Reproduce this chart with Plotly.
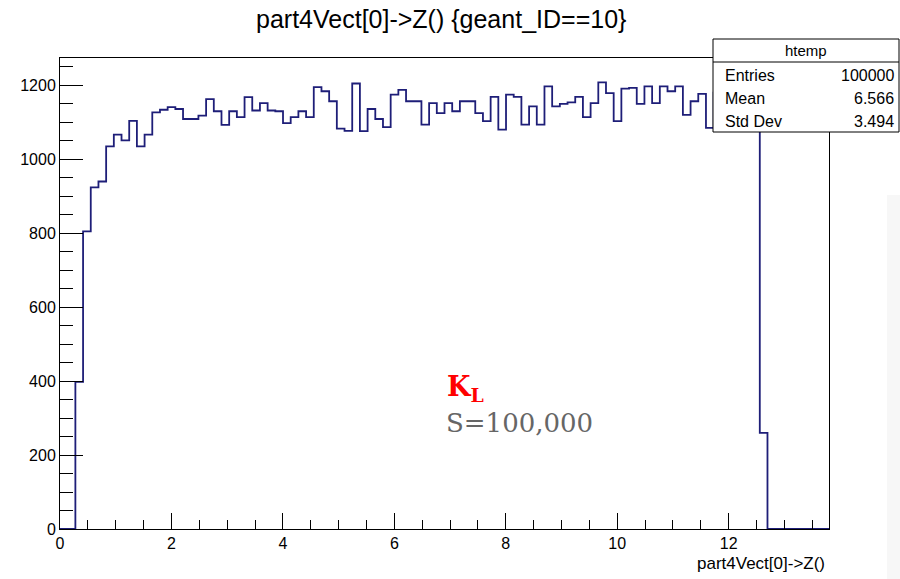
import numpy as np
import plotly.graph_objects as go

# ---- data ----
x_min, x_max, n_bins = 0.0, 13.8, 100
bin_counts = [
    0, 0, 398, 805, 924, 940, 1035, 1067, 1051, 1104,
    1035, 1067, 1127, 1134, 1141, 1136, 1109, 1109, 1118, 1163,
    1130, 1093, 1130, 1114, 1168, 1132, 1152, 1132, 1130, 1098,
    1114, 1130, 1114, 1195, 1184, 1157, 1083, 1077, 1205, 1076,
    1136, 1109, 1087, 1175, 1188, 1157, 1157, 1094, 1152, 1125,
    1152, 1130, 1157, 1157, 1125, 1103, 1169, 1080, 1175, 1169,
    1094, 1143, 1094, 1197, 1143, 1150, 1154, 1169, 1114, 1152,
    1208, 1179, 1103, 1191, 1193, 1150, 1197, 1152, 1197, 1184,
    1197, 1120, 1157, 1177, 1085, 1180, 1150, 1190, 1160, 1200,
    1170, 260, 0, 0, 0, 0, 0, 0, 0, 0,
]
y_max = 1274
title_text = "part4Vect[0]->Z() {geant_ID==10}"
x_title = "part4Vect[0]->Z()"
stats_name = "htemp"
stats_labels = ["Entries", "Mean", "Std Dev"]
stats_values = ["100000", "6.566", "3.494"]
note_particle = "<b>K<sub>L</sub></b>"
note_stat = "S=100,000"

edges = np.linspace(x_min, x_max, n_bins + 1)
xs = list(edges)
ys = list(bin_counts) + [0]

fig = go.Figure()
fig.add_trace(go.Scatter(
    x=xs, y=ys, mode="lines", line=dict(shape="hv", color="#1e1e78", width=1.8),
    hoverinfo="skip", showlegend=False,
))

L, R, T, B = 60, 71, 58, 50
W, H = 900, 579
pw = W - L - R
ph = H - T - B

def px(xp):
    return (xp - L) / pw

def py(yp):
    return (H - B - yp) / ph

font_main = "Liberation Sans, Arial, Helvetica, sans-serif"

fig.update_layout(
    width=W, height=H,
    margin=dict(l=L, r=R, t=T, b=B, pad=0),
    paper_bgcolor="white", plot_bgcolor="white",
    font=dict(family=font_main, color="black", size=16),
    showlegend=False,
    xaxis=dict(
        range=[x_min, x_max], showgrid=False, zeroline=False,
        showline=True, linecolor="black", linewidth=1, mirror=True,
        ticks="inside", ticklen=16, tickwidth=1, tickcolor="black",
        tick0=0, dtick=2, tickfont=dict(size=16),
        minor=dict(ticks="inside", ticklen=9, dtick=0.5, tickcolor="black", showgrid=False),
    ),
    yaxis=dict(
        range=[0, y_max], showgrid=False, zeroline=False,
        showline=True, linecolor="black", linewidth=1, mirror=True,
        ticks="inside", ticklen=23, tickwidth=1, tickcolor="black",
        tick0=0, dtick=200, tickfont=dict(size=16),
        minor=dict(ticks="inside", ticklen=13, dtick=50, tickcolor="black", showgrid=False),
    ),
)

# right-edge faint grey panel
fig.add_shape(type="rect", xref="paper", yref="paper",
              x0=px(887), x1=px(900), y0=py(579), y1=py(195),
              fillcolor="#f7f7f7", line=dict(width=0), layer="below")

# stats box
fig.add_shape(type="rect", xref="paper", yref="paper",
              x0=px(713), x1=px(899), y0=py(132), y1=py(39),
              fillcolor="white", line=dict(color="black", width=1), layer="above")
fig.add_shape(type="line", xref="paper", yref="paper",
              x0=px(713), x1=px(899), y0=py(62), y1=py(62),
              line=dict(color="black", width=1), layer="above")

fig.add_annotation(text=stats_name, xref="paper", yref="paper",
                   x=px(806), y=py(50), xanchor="center", yanchor="middle",
                   showarrow=False, font=dict(size=15, family=font_main))
for i, (lab, val) in enumerate(zip(stats_labels, stats_values)):
    yy = 75 + i * 23.5
    fig.add_annotation(text=lab, xref="paper", yref="paper",
                       x=px(723), y=py(yy), xanchor="left", yanchor="middle",
                       showarrow=False, font=dict(size=16, family=font_main))
    fig.add_annotation(text=val, xref="paper", yref="paper",
                       x=px(896), y=py(yy), xanchor="right", yanchor="middle",
                       showarrow=False, font=dict(size=16, family=font_main))

# title
fig.add_annotation(text=title_text, xref="paper", yref="paper",
                   x=px(441), y=py(19), xanchor="center", yanchor="middle",
                   showarrow=False, font=dict(size=25, family=font_main))

# x axis title
fig.add_annotation(text=x_title, xref="paper", yref="paper",
                   x=px(827), y=py(563), xanchor="right", yanchor="middle",
                   showarrow=False, font=dict(size=17, family=font_main))

# overlay notes
fig.add_annotation(text=note_particle, xref="paper", yref="paper",
                   x=px(445), y=py(388), xanchor="left", yanchor="middle",
                   showarrow=False, font=dict(size=27, family="DejaVu Serif", color="#ff0000"))
fig.add_annotation(text=note_stat, xref="paper", yref="paper",
                   x=px(444), y=py(423), xanchor="left", yanchor="middle",
                   showarrow=False, font=dict(size=26, family="DejaVu Serif", color="#666666"))

fig.write_html("out.html")
